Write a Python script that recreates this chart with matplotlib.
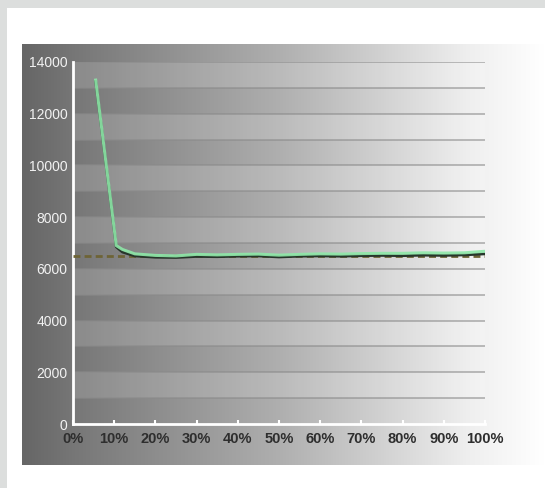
import numpy as np
import matplotlib.pyplot as plt
from matplotlib.colors import LinearSegmentedColormap

# data (x in %, y in units)
x_pct = [5.5, 10.5, 12, 15, 20, 25, 30, 35, 40, 45, 50, 55, 60, 65, 70, 75, 80, 85, 90, 95, 100]
green_vals = [13300, 6900, 6750, 6580, 6520, 6500, 6560, 6540, 6560, 6570, 6530, 6560, 6580, 6570, 6590, 6600, 6600, 6620, 6610, 6620, 6680]
dark_vals = [13250, 6850, 6650, 6500, 6450, 6440, 6480, 6470, 6490, 6500, 6460, 6490, 6500, 6490, 6510, 6520, 6510, 6530, 6520, 6540, 6580]
target_val = 6500
x_ticks = list(range(0, 101, 10))
x_labels = [f"{t}%" for t in x_ticks]
y_ticks = list(range(0, 14001, 2000))

fig = plt.figure(figsize=(5.45, 4.88), dpi=100)
fig.patch.set_facecolor("white")

W, H = 545, 488

# outer grey frame on the top and left edge
frame = fig.add_axes([0, 0, 1, 1])
frame.set_xlim(0, W)
frame.set_ylim(H, 0)
frame.axis("off")
frame.add_patch(plt.Rectangle((0, 0), W, 8, color="#dcdedd", lw=0))
frame.add_patch(plt.Rectangle((0, 0), 7, H, color="#dcdedd", lw=0))

# grey-to-white gradient panel behind the chart
cmap = LinearSegmentedColormap.from_list(
    "bg", [(0, "#666666"), (0.1, "#777777"), (0.5, "#b0b0b0"), (0.85, "#eeeeee"), (1, "#ffffff")])
grad = np.linspace(0, 1, 256).reshape(1, -1)
frame.imshow(grad, cmap=cmap, aspect="auto", extent=(22, W, 465, 44), zorder=1)

ax = fig.add_axes([73 / W, 1 - 424 / H, 412 / W, 362 / H])
ax.patch.set_alpha(0)
ax.set_xlim(0, 100)
ax.set_ylim(0, 14000)

# alternating bands and grid lines every 1000
for i, lo in enumerate(range(0, 14000, 1000)):
    if i % 2 == 1:
        ax.axhspan(lo, lo + 1000, color="white", alpha=0.15, lw=0, zorder=0)
for v in range(1000, 14001, 1000):
    ax.axhline(v, color="#8a8a8a", lw=1.3, alpha=0.6, zorder=1)

ax.plot([0, 100], [target_val, target_val], color="#6e6436", lw=2, ls=(0, (2.5, 1.5)), zorder=3)
ax.plot(x_pct, dark_vals, color="#27352b", lw=2, zorder=4)
ax.plot(x_pct, green_vals, color="#8ee8a8", lw=2.2, alpha=0.9, zorder=5)

for s in ["top", "right"]:
    ax.spines[s].set_visible(False)
for s in ["left", "bottom"]:
    ax.spines[s].set_color("white")
    ax.spines[s].set_linewidth(2)

ax.set_xticks(x_ticks)
ax.set_xticklabels(x_labels)
ax.set_yticks(y_ticks)
ax.tick_params(axis="x", colors="white", length=3, width=1.5, direction="in", pad=6)
ax.tick_params(axis="y", length=0, pad=4)
for lbl in ax.get_xticklabels():
    lbl.set_color("#2e2e2e")
    lbl.set_fontfamily("Liberation Sans")
    lbl.set_fontweight("bold")
    lbl.set_fontsize(10.5)
for lbl in ax.get_yticklabels():
    lbl.set_color("#f2f2f2")
    lbl.set_fontfamily("Liberation Sans")
    lbl.set_fontsize(10)

fig.savefig("out.png", dpi=100)
